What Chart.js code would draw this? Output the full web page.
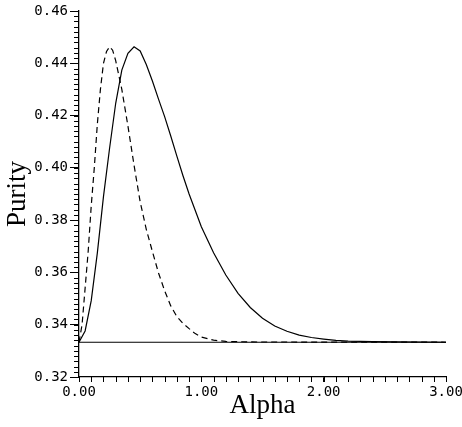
<!DOCTYPE html>
<html>
<head>
<meta charset="utf-8">
<script src="https://cdn.jsdelivr.net/npm/chart.js@4"></script>
<style>
  html, body { margin: 0; padding: 0; background: #fff; }
  #wrap { width: 462px; height: 427px; }
</style>
</head>
<body>
<div id="wrap"><canvas id="grafica"></canvas></div>
<script>
// valores
const alphaSolida = [0, 0.05, 0.10, 0.15, 0.20, 0.25, 0.30, 0.35, 0.40, 0.45, 0.50, 0.55, 0.60, 0.65, 0.70, 0.75, 0.80, 0.85, 0.90, 1.00, 1.10, 1.20, 1.30, 1.40, 1.50, 1.60, 1.70, 1.80, 1.90, 2.00, 2.10, 2.20, 2.40, 2.60, 3.00];
const puritySolida = [0.3333, 0.3376, 0.3492, 0.3675, 0.3890, 0.4075, 0.4247, 0.4374, 0.4438, 0.4463, 0.4447, 0.4395, 0.4332, 0.4263, 0.4196, 0.4122, 0.4045, 0.3970, 0.3900, 0.3775, 0.3675, 0.3590, 0.3520, 0.3466, 0.3425, 0.3395, 0.3375, 0.3360, 0.3351, 0.3345, 0.3340, 0.3337, 0.3335, 0.3334, 0.3333];

const alphaPunteada = [0, 0.025, 0.05, 0.075, 0.10, 0.125, 0.15, 0.175, 0.20, 0.225, 0.25, 0.275, 0.30, 0.35, 0.40, 0.45, 0.50, 0.55, 0.60, 0.65, 0.70, 0.75, 0.80, 0.85, 0.90, 0.95, 1.00, 1.10, 1.20, 1.40, 3.00];
const purityPunteada = [0.3333, 0.3400, 0.3540, 0.3680, 0.3855, 0.4000, 0.4168, 0.4300, 0.4400, 0.4445, 0.4463, 0.4450, 0.4410, 0.4300, 0.4160, 0.4010, 0.3870, 0.3765, 0.3680, 0.3598, 0.3530, 0.3472, 0.3431, 0.3405, 0.3385, 0.3366, 0.3353, 0.3341, 0.3336, 0.3334, 0.3333];

const alphaBase = [0, 3];
const purityBase = [0.3333, 0.3333];

const xMin = 0, xMax = 3, xMayor = 1, xMenor = 0.1;
const yMin = 0.32, yMax = 0.46, yMayor = 0.02, yMenor = 0.002;

const fuenteTicks = { family: 'DejaVu Sans Mono', size: 14 };
const fuenteTitulo = { family: 'Liberation Serif', size: 27 };

function puntos(xs, ys) {
    return xs.map((x, i) => ({ x: x, y: ys[i] }));
}

// marcas menores, dibujadas con las escalas de Chart.js
const marcasMenores = {
    id: 'marcasMenores',
    afterDraw(chart) {
        const ctx = chart.ctx;
        const sx = chart.scales.x, sy = chart.scales.y;
        const area = chart.chartArea;
        ctx.save();
        ctx.strokeStyle = '#000';
        ctx.lineWidth = 1;
        ctx.beginPath();
        const nx = Math.round((xMax - xMin) / xMenor);
        for (let i = 0; i <= nx; i++) {
            const px = Math.round(sx.getPixelForValue(xMin + i * xMenor)) + 0.5;
            ctx.moveTo(px, area.bottom);
            ctx.lineTo(px, area.bottom + 5);
        }
        const ny = Math.round((yMax - yMin) / yMenor);
        for (let i = 0; i <= ny; i++) {
            const py = Math.round(sy.getPixelForValue(yMin + i * yMenor)) + 0.5;
            ctx.moveTo(area.left, py);
            ctx.lineTo(area.left - 5, py);
        }
        ctx.stroke();
        ctx.restore();
    }
};

new Chart(document.getElementById('grafica').getContext('2d'), {
    type: 'scatter',
    data: {
        datasets: [
            {
                data: puntos(alphaBase, purityBase),
                showLine: true,
                borderColor: '#000',
                borderWidth: 1.2,
                pointRadius: 0,
                tension: 0
            },
            {
                data: puntos(alphaSolida, puritySolida),
                showLine: true,
                borderColor: '#000',
                borderWidth: 1.2,
                pointRadius: 0,
                tension: 0
            },
            {
                data: puntos(alphaPunteada, purityPunteada),
                showLine: true,
                borderColor: '#000',
                borderWidth: 1.2,
                borderDash: [6, 4],
                pointRadius: 0,
                tension: 0
            }
        ]
    },
    options: {
        responsive: true,
        maintainAspectRatio: false,
        animation: false,
        layout: { padding: { left: 0, right: 16, top: 11, bottom: 0 } },
        plugins: { legend: { display: false }, tooltip: { enabled: false } },
        scales: {
            x: {
                type: 'linear',
                min: xMin,
                max: xMax,
                border: { color: '#000', width: 1.3 },
                grid: { drawOnChartArea: false, color: '#000', tickLength: 5 },
                ticks: {
                    stepSize: xMayor,
                    color: '#000',
                    font: fuenteTicks,
                    padding: 2,
                    maxRotation: 0,
                    callback: v => v.toFixed(2)
                },
                title: { display: true, text: 'Alpha', color: '#000', font: fuenteTitulo, padding: { top: 0, bottom: 5 } },
                afterFit(scale) {
                    scale.height = 50;
                    scale.paddingLeft = 0;
                    scale.paddingRight = 0;
                }
            },
            y: {
                type: 'linear',
                min: yMin,
                max: yMax,
                border: { color: '#000', width: 1.3 },
                grid: { drawOnChartArea: false, color: '#000', tickLength: 9 },
                ticks: {
                    stepSize: yMayor,
                    color: '#000',
                    font: fuenteTicks,
                    padding: 2,
                    callback: v => v.toFixed(2)
                },
                title: { display: true, text: 'Purity', color: '#000', font: fuenteTitulo, padding: { top: 2, bottom: 0 } },
                afterFit(scale) {
                    scale.width = 79;
                    scale.paddingTop = 0;
                    scale.paddingBottom = 0;
                }
            }
        }
    },
    plugins: [marcasMenores]
});
</script>
</body>
</html>
